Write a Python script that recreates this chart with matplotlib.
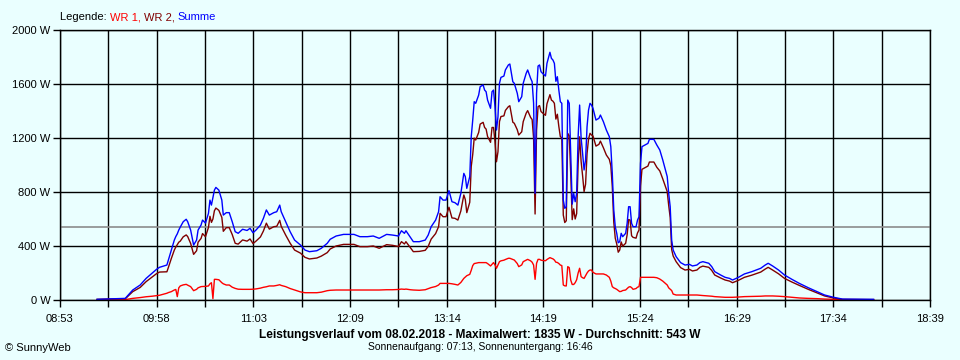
import numpy as np
import matplotlib
matplotlib.use("Agg")
import matplotlib.pyplot as plt

# Messzeitpunkte (HH:MM) und Leistung in W
times = ["09:18", "09:37", "09:38", "09:42", "09:47", "09:51", "09:55", "09:58", "10:00", "10:05",
         "10:06", "10:08", "10:10", "10:11", "10:12", "10:13", "10:14", "10:16", "10:18", "10:19",
         "10:21", "10:23", "10:25", "10:26", "10:28", "10:29", "10:31", "10:33", "10:34", "10:35",
         "10:36", "10:37", "10:38", "10:40", "10:42", "10:43", "10:45", "10:47", "10:49", "10:51",
         "10:53", "10:56", "10:59", "11:01", "11:03", "11:05", "11:08", "11:10", "11:12", "11:14",
         "11:17", "11:19", "11:21", "11:22", "11:25", "11:28", "11:31", "11:35", "11:38", "11:41",
         "11:46", "11:49", "11:53", "11:55", "11:59", "12:04", "12:11", "12:15", "12:20", "12:24",
         "12:28", "12:33", "12:37", "12:41", "12:43", "12:45", "12:46", "12:49", "12:51", "12:55",
         "12:59", "13:01", "13:03", "13:06", "13:08", "13:09", "13:11", "13:13", "13:15", "13:17",
         "13:19", "13:21", "13:23", "13:25", "13:26", "13:27", "13:29", "13:30", "13:31", "13:32",
         "13:33", "13:35", "13:36", "13:38", "13:39", "13:40", "13:41", "13:43", "13:44", "13:45",
         "13:46", "13:47", "13:48", "13:49", "13:50", "13:52", "13:53", "13:55", "13:56", "13:58",
         "13:59", "14:01", "14:02", "14:04", "14:05", "14:07", "14:08", "14:10", "14:11", "14:12",
         "14:13", "14:14", "14:15", "14:16", "14:17", "14:18", "14:20", "14:21", "14:23", "14:24",
         "14:25", "14:26", "14:27", "14:28", "14:29", "14:30", "14:31", "14:32", "14:33", "14:34",
         "14:35", "14:36", "14:37", "14:38", "14:39", "14:40", "14:41", "14:42", "14:43", "14:44",
         "14:45", "14:46", "14:47", "14:48", "14:49", "14:50", "14:51", "14:52", "14:54", "14:56",
         "14:57", "14:59", "15:01", "15:03", "15:04", "15:05", "15:06", "15:07", "15:08", "15:09",
         "15:10", "15:11", "15:12", "15:14", "15:15", "15:16", "15:17", "15:18", "15:19", "15:21",
         "15:22", "15:23", "15:24", "15:25", "15:27", "15:29", "15:30", "15:33", "15:35", "15:37",
         "15:39", "15:42", "15:43", "15:44", "15:45", "15:46", "15:48", "15:51", "15:54", "15:57",
         "15:59", "16:02", "16:04", "16:06", "16:10", "16:12", "16:14", "16:18", "16:21", "16:24",
         "16:26", "16:30", "16:34", "16:39", "16:45", "16:48", "16:50", "16:53", "16:57", "17:01",
         "17:06", "17:11", "17:17", "17:23", "17:28", "17:34", "17:40", "18:01"]

wr1 = [0, 2, 5, 12, 18, 24, 28, 32, 35, 50,
       55, 62, 74, 78, 25, 90, 104, 112, 116, 110,
       99, 69, 79, 90, 99, 100, 101, 104, 120, 128,
       10, 153, 153, 150, 128, 120, 111, 111, 95, 86,
       80, 79, 79, 79, 80, 82, 88, 94, 98, 104,
       104, 108, 113, 108, 99, 85, 74, 60, 54, 54,
       54, 58, 69, 72, 74, 74, 74, 74, 74, 74,
       74, 76, 76, 78, 81, 79, 81, 76, 74, 72,
       76, 84, 92, 100, 111, 123, 123, 123, 123, 120,
       116, 111, 130, 160, 170, 180, 190, 220, 255, 270,
       272, 277, 277, 277, 277, 277, 270, 252, 265, 277,
       260, 235, 260, 284, 290, 295, 300, 309, 309, 300,
       296, 270, 247, 260, 284, 295, 301, 290, 280, 259,
       153, 272, 301, 301, 295, 293, 291, 300, 314, 309,
       305, 296, 280, 278, 270, 259, 255, 111, 105, 104,
       247, 240, 148, 115, 115, 128, 150, 200, 235, 173,
       165, 160, 180, 200, 215, 222, 222, 205, 193, 193,
       193, 193, 185, 168, 140, 99, 90, 85, 79, 70,
       62, 64, 70, 74, 85, 95, 99, 92, 79, 85,
       95, 99, 168, 168, 168, 168, 168, 168, 165, 155,
       140, 111, 90, 80, 70, 44, 37, 37, 37, 37,
       37, 37, 35, 33, 30, 28, 25, 22, 20, 20,
       20, 22, 25, 26, 28, 30, 30, 30, 28, 25,
       20, 15, 12, 10, 7, 5, 3, 2]

wr2 = [5, 10, 20, 62, 93, 136, 170, 195, 207, 209,
       241, 308, 370, 392, 410, 428, 436, 468, 482, 470,
       419, 338, 365, 428, 456, 492, 469, 538, 620, 575,
       600, 661, 681, 664, 612, 509, 536, 536, 485, 420,
       414, 445, 436, 452, 418, 436, 467, 511, 569, 525,
       543, 546, 590, 546, 481, 421, 370, 347, 316, 304,
       311, 325, 351, 378, 400, 412, 412, 395, 395, 400,
       383, 410, 405, 396, 432, 415, 432, 388, 358, 360,
       368, 397, 451, 492, 543, 642, 617, 617, 687, 608,
       605, 592, 660, 778, 744, 647, 724, 990, 1078, 1199,
       1185, 1241, 1303, 1316, 1278, 1266, 1211, 1168, 1278, 1278,
       1172, 1024, 1098, 1321, 1359, 1364, 1404, 1432, 1439, 1317,
       1309, 1261, 1222, 1246, 1321, 1384, 1403, 1352, 1337, 1198,
       637, 1259, 1432, 1440, 1396, 1386, 1368, 1453, 1521, 1481,
       1473, 1457, 1340, 1376, 1285, 1210, 1202, 629, 574, 587,
       1234, 1217, 938, 595, 675, 600, 640, 1010, 1209, 1027,
       921, 803, 857, 1084, 1192, 1235, 1222, 1215, 1140, 1153,
       1177, 1128, 1074, 1042, 996, 839, 577, 458, 415, 354,
       370, 430, 399, 420, 483, 596, 592, 476, 464, 458,
       497, 518, 844, 968, 980, 992, 1022, 1022, 983, 956,
       897, 803, 700, 611, 374, 326, 284, 240, 222, 227,
       215, 222, 242, 251, 242, 219, 185, 163, 148, 140,
       128, 146, 168, 184, 207, 229, 242, 222, 194, 160,
       133, 108, 79, 52, 30, 15, 4, 3]

summe = [5, 12, 25, 74, 111, 160, 198, 227, 242, 259,
         296, 370, 444, 470, 490, 518, 540, 580, 598, 580,
         518, 407, 444, 518, 555, 592, 570, 642, 740, 703,
         760, 814, 834, 814, 740, 629, 647, 647, 580, 506,
         494, 524, 515, 531, 498, 518, 555, 605, 667, 629,
         647, 654, 703, 654, 580, 506, 444, 407, 370, 358,
         365, 383, 420, 450, 474, 486, 486, 469, 469, 474,
         457, 486, 481, 474, 513, 494, 513, 464, 432, 432,
         444, 481, 543, 592, 654, 765, 740, 740, 810, 728,
         721, 703, 790, 938, 914, 827, 914, 1210, 1333, 1469,
         1457, 1518, 1580, 1593, 1555, 1543, 1481, 1420, 1543, 1555,
         1432, 1259, 1358, 1605, 1649, 1659, 1704, 1741, 1748, 1617,
         1605, 1531, 1469, 1506, 1605, 1679, 1704, 1642, 1617, 1457,
         790, 1531, 1733, 1741, 1691, 1679, 1659, 1753, 1835, 1790,
         1778, 1753, 1620, 1654, 1555, 1469, 1457, 740, 679, 691,
         1481, 1457, 1086, 710, 790, 728, 790, 1210, 1444, 1200,
         1086, 963, 1037, 1284, 1407, 1457, 1444, 1420, 1333, 1346,
         1370, 1321, 1259, 1210, 1136, 938, 667, 543, 494, 424,
         432, 494, 469, 494, 568, 691, 691, 568, 543, 543,
         592, 617, 1012, 1136, 1148, 1160, 1190, 1190, 1148, 1111,
         1037, 914, 790, 691, 444, 370, 321, 277, 259, 264,
         252, 259, 277, 284, 272, 247, 210, 185, 168, 160,
         148, 168, 193, 210, 235, 259, 272, 252, 222, 185,
         153, 123, 91, 62, 37, 20, 7, 5]

tick_labels = ["08:53", "09:58", "11:03", "12:09", "13:14",
               "14:19", "15:24", "16:29", "17:34", "18:39"]
y_ticks = [0, 400, 800, 1200, 1600, 2000]
average = 543
maximum = 1835
date = "08.02.2018"
sunrise, sunset = "07:13", "16:46"


def to_min(s):
    h, m = s.split(":")
    return int(h) * 60 + int(m)


x = np.array([to_min(t) for t in times])
t0, t1 = to_min(tick_labels[0]), to_min(tick_labels[-1])

bg = "#EAFFFF"
plt.rcParams["font.family"] = ["Liberation Sans", "DejaVu Sans"]
plt.rcParams["font.size"] = 8

fig = plt.figure(figsize=(9.6, 3.6), dpi=100, facecolor=bg)
ax = fig.add_axes([60 / 960, 60 / 360, 870 / 960, 270 / 360], facecolor=bg)
ax.set_xlim(t0, t1)
ax.set_ylim(0, 2000)

major = np.linspace(t0, t1, len(tick_labels))
minor = np.linspace(t0, t1, 2 * len(tick_labels) - 1)
ax.set_xticks(minor, minor=True)
ax.set_xticks(major)
ax.set_xticklabels(tick_labels)
ax.set_yticks(y_ticks)
ax.set_yticklabels([f"{v} W" for v in y_ticks])

ax.grid(True, which="both", axis="x", color="black", lw=1)
ax.grid(True, axis="y", color="black", lw=1)
ax.set_axisbelow(True)
ax.tick_params(axis="x", which="both", length=5, width=1, color="black", pad=5)
ax.tick_params(axis="y", length=5, width=1, pad=2)
for s in ax.spines.values():
    s.set_color("black")
    s.set_linewidth(1)

ax.axhline(average, color="#8C8C8C", lw=1.2)
ax.plot(x, wr1, color="#FF0000", lw=1.0)
ax.plot(x, wr2, color="#800000", lw=1.0)
ax.plot(x, summe, color="#0000FF", lw=1.0)

# Legende als farbige Textstuecke
fig.canvas.draw()
r = fig.canvas.get_renderer()
xpos = 60
for txt, col in [("Legende: ", "black"), ("WR 1, ", "#FF0000"),
                 ("WR 2, ", "#800000"), ("Summe", "#0000FF")]:
    t = fig.text(xpos / 960, 1 - 17 / 360, txt, color=col, va="center", ha="left")
    xpos += t.get_window_extent(renderer=r).width

fig.text(0.5, 1 - 335 / 360,
         f"Leistungsverlauf vom {date} - Maximalwert: {maximum} W - Durchschnitt: {average} W",
         ha="center", va="center", weight="bold", fontsize=8.6)
fig.text(0.5, 1 - 347 / 360, f"Sonnenaufgang: {sunrise}, Sonnenuntergang: {sunset}",
         ha="center", va="center", fontsize=7.5)
fig.text(5 / 960, 1 - 348 / 360, "© SunnyWeb", ha="left", va="center")

fig.savefig("out.png", dpi=100, facecolor=bg)
